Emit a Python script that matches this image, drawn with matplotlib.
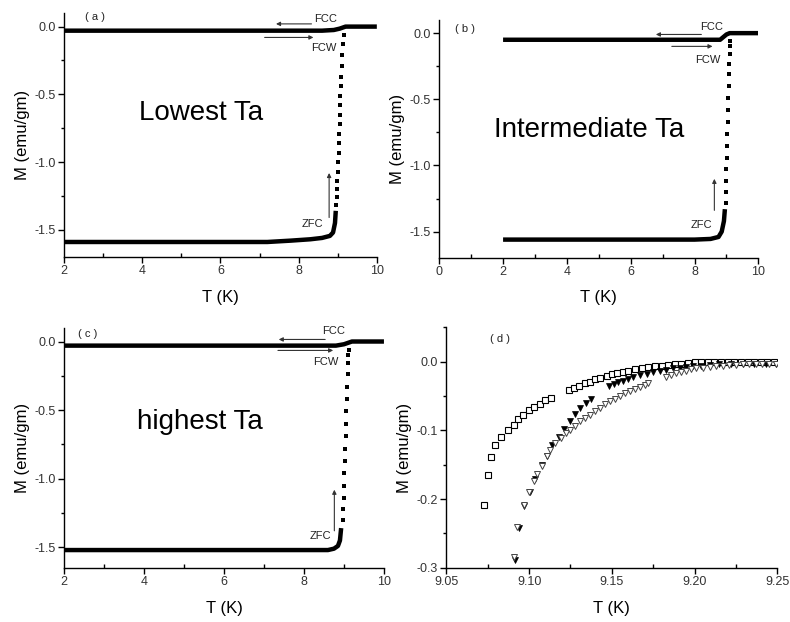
import numpy as np
import matplotlib.pyplot as plt
from matplotlib.ticker import MultipleLocator

plt.rcParams['font.family'] = ['Liberation Sans', 'DejaVu Sans']

# ---- panel (a): lowest Ta ----
a_zfc_T = [2.0, 7.2, 7.8, 8.3, 8.6, 8.8, 8.88, 8.93, 8.95]
a_zfc_M = [-1.59, -1.59, -1.58, -1.57, -1.56, -1.545, -1.52, -1.45, -1.36]
a_rise_T = [8.96, 8.97, 8.98, 8.99, 9.00, 9.01, 9.02, 9.03, 9.04, 9.05, 9.06,
            9.065, 9.07, 9.08, 9.09, 9.10, 9.11, 9.13, 9.15]
a_rise_M = [-1.32, -1.26, -1.2, -1.14, -1.07, -1.0, -0.93, -0.86, -0.79, -0.72,
            -0.65, -0.58, -0.51, -0.44, -0.37, -0.29, -0.21, -0.13, -0.06]
a_fc_T = [2.0, 8.6, 8.9, 9.05, 9.15, 9.2, 10.0]
a_fc_M = [-0.03, -0.03, -0.025, -0.015, -0.005, 0.0, 0.0]

# ---- panel (b): intermediate Ta ----
b_zfc_T = [2.0, 8.0, 8.5, 8.75, 8.85, 8.92, 8.95]
b_zfc_M = [-1.56, -1.56, -1.555, -1.54, -1.5, -1.42, -1.33]
b_rise_T = [8.97, 8.98, 8.99, 9.0, 9.01, 9.02, 9.03, 9.04, 9.05, 9.06, 9.07,
            9.08, 9.09, 9.1, 9.11, 9.12]
b_rise_M = [-1.28, -1.2, -1.12, -1.03, -0.94, -0.85, -0.76, -0.67, -0.58, -0.49,
            -0.4, -0.31, -0.23, -0.16, -0.1, -0.06]
b_fc_T = [2.0, 8.8, 8.9, 9.0, 9.1, 10.0]
b_fc_M = [-0.05, -0.05, -0.03, -0.01, 0.0, 0.0]

# ---- panel (c): highest Ta ----
c_zfc_T = [2.0, 8.6, 8.75, 8.85, 8.9, 8.93]
c_zfc_M = [-1.52, -1.52, -1.51, -1.49, -1.45, -1.36]
c_rise_T = [8.97, 8.98, 8.99, 9.0, 9.01, 9.02, 9.03, 9.04, 9.05, 9.06, 9.07,
            9.08, 9.09, 9.1, 9.11, 9.12]
c_rise_M = [-1.3, -1.22, -1.14, -1.05, -0.96, -0.87, -0.78, -0.69, -0.6, -0.51,
            -0.42, -0.33, -0.24, -0.16, -0.1, -0.06]
c_fc_T = [2.0, 8.8, 9.0, 9.1, 9.2, 10.0]
c_fc_M = [-0.03, -0.03, -0.02, -0.01, 0.0, 0.0]

# ---- panel (d): zoom near Tc ----
sq_T = [9.0725, 9.075, 9.077, 9.0796, 9.083, 9.087, 9.0907, 9.093, 9.0963, 9.0997,
        9.1032, 9.1068, 9.1098, 9.1133,
        9.1239, 9.127, 9.1304, 9.1336, 9.137, 9.140, 9.143, 9.147, 9.150, 9.153,
        9.157, 9.160, 9.164, 9.168, 9.172, 9.176, 9.180, 9.184, 9.188, 9.192,
        9.196, 9.200, 9.204, 9.208, 9.212, 9.216, 9.220, 9.224, 9.228, 9.232,
        9.236, 9.240, 9.244, 9.248]
sq_M = [-0.208, -0.165, -0.139, -0.122, -0.110, -0.100, -0.092, -0.084, -0.078, -0.071,
        -0.066, -0.061, -0.056, -0.053,
        -0.042, -0.038, -0.035, -0.031, -0.029, -0.026, -0.024, -0.021, -0.018, -0.017,
        -0.015, -0.013, -0.011, -0.010, -0.008, -0.007, -0.006, -0.005, -0.004, -0.003,
        -0.002, -0.001, -0.001, -0.001, 0.0, 0.0, 0.0, 0.0, 0.0, 0.0,
        0.0, 0.0, 0.0, 0.0]

tri_f_T = [9.0917, 9.0937, 9.097, 9.1007, 9.1038, 9.108, 9.111, 9.1139, 9.118, 9.121,
           9.1245, 9.128, 9.131, 9.1345, 9.1376,
           9.148, 9.151, 9.154, 9.157, 9.160, 9.163, 9.167, 9.171, 9.175, 9.179,
           9.183, 9.187, 9.191, 9.195, 9.199, 9.204, 9.209, 9.215, 9.222, 9.229,
           9.236, 9.243, 9.249]
tri_f_M = [-0.288, -0.242, -0.210, -0.189, -0.171, -0.151, -0.137, -0.122, -0.110, -0.098,
           -0.086, -0.076, -0.068, -0.060, -0.054,
           -0.036, -0.033, -0.030, -0.028, -0.025, -0.022, -0.020, -0.018, -0.015, -0.013,
           -0.012, -0.010, -0.009, -0.008, -0.007, -0.006, -0.005, -0.004, -0.004, -0.003,
           -0.003, -0.003, -0.003]

tri_o_T = [9.0907, 9.0927, 9.0967, 9.0997, 9.1028, 9.1048, 9.1078, 9.1108, 9.1128, 9.1159,
           9.119, 9.122, 9.125, 9.128, 9.131, 9.134, 9.137, 9.140, 9.143, 9.146,
           9.149, 9.152, 9.155, 9.158, 9.161, 9.164, 9.167, 9.170, 9.172,
           9.183, 9.186, 9.189, 9.192, 9.195, 9.198, 9.201, 9.205, 9.209, 9.213,
           9.217, 9.221, 9.225, 9.229, 9.233, 9.237, 9.241, 9.245, 9.249]
tri_o_M = [-0.284, -0.240, -0.208, -0.189, -0.174, -0.164, -0.152, -0.138, -0.128, -0.118,
           -0.111, -0.104, -0.099, -0.093, -0.087, -0.082, -0.077, -0.072, -0.067, -0.062,
           -0.058, -0.054, -0.050, -0.046, -0.043, -0.040, -0.037, -0.034, -0.031,
           -0.022, -0.019, -0.017, -0.015, -0.013, -0.011, -0.010, -0.009, -0.008, -0.007,
           -0.006, -0.005, -0.005, -0.004, -0.004, -0.003, -0.003, -0.003, -0.003]

tick_col = '#333333'


def style_axes(ax, xpad):
    for s in ['top', 'right']:
        ax.spines[s].set_visible(False)
    for s in ['left', 'bottom']:
        ax.spines[s].set_linewidth(1.0)
    ax.tick_params(which='major', direction='out', length=4, width=1.0,
                   labelsize=9, labelcolor=tick_col, pad=2)
    ax.tick_params(axis='y', which='minor', direction='out', length=2.5, width=1.0)
    ax.tick_params(axis='x', which='minor', direction='in', length=3, width=1.0)
    ax.set_xlabel('T (K)', fontsize=12, labelpad=xpad)
    ax.set_ylabel('M (emu/gm)', fontsize=12, labelpad=3)


def mt_panel(ax, zT, zM, rT, rM, fT, fM, xlim, ylim, tag, tag_xy, name, name_xy,
             fcc, fcw, zfc, xpad):
    ax.plot(fT, fM, color='black', lw=3.2, solid_capstyle='butt')
    ax.plot(zT, zM, color='black', lw=3.2, solid_capstyle='butt')
    ax.plot(rT, rM, 's', color='black', ms=2.6, mew=0)
    ax.set_xlim(*xlim)
    ax.set_ylim(*ylim)
    ax.xaxis.set_major_locator(MultipleLocator(2))
    ax.xaxis.set_minor_locator(MultipleLocator(1))
    ax.yaxis.set_major_locator(MultipleLocator(0.5))
    ax.yaxis.set_minor_locator(MultipleLocator(0.25))
    ax.yaxis.set_major_formatter(plt.FormatStrFormatter('%.1f'))
    ax.text(tag_xy[0], tag_xy[1], tag, fontsize=8, ha='center', va='center',
            color='#222222')
    ax.text(name_xy[0], name_xy[1], name, fontsize=20, ha='center', va='center')
    arr = dict(arrowstyle='-|>', color='#333333', lw=0.8, mutation_scale=6)
    ax.annotate('', xy=(fcc[1], fcc[2]), xytext=(fcc[0], fcc[2]), arrowprops=arr)
    ax.text(fcc[3], fcc[4], 'FCC', fontsize=8, ha='center', va='center', color='#222222')
    ax.annotate('', xy=(fcw[1], fcw[2]), xytext=(fcw[0], fcw[2]), arrowprops=arr)
    ax.text(fcw[3], fcw[4], 'FCW', fontsize=8, ha='center', va='center', color='#222222')
    ax.annotate('', xy=(zfc[0], zfc[2]), xytext=(zfc[0], zfc[1]), arrowprops=arr)
    ax.text(zfc[3], zfc[4], 'ZFC', fontsize=8, ha='center', va='center', color='#222222')
    style_axes(ax, xpad)


fig = plt.figure(figsize=(7.9, 6.22), dpi=100)
axa = fig.add_axes([0.081, 0.587, 0.396, 0.392])
axb = fig.add_axes([0.556, 0.585, 0.404, 0.383])
axc = fig.add_axes([0.081, 0.087, 0.405, 0.386])
axd = fig.add_axes([0.565, 0.087, 0.419, 0.387])

mt_panel(axa, a_zfc_T, a_zfc_M, a_rise_T, a_rise_M, a_fc_T, a_fc_M,
         (2, 10), (-1.7, 0.1), '( a )', (2.8, 0.07), 'Lowest Ta', (5.5, -0.64),
         fcc=(8.4, 7.35, 0.02, 8.7, 0.055), fcw=(7.06, 8.45, -0.08, 8.65, -0.16),
         zfc=(8.78, -1.43, -1.06, 8.35, -1.46), xpad=9)
mt_panel(axb, b_zfc_T, b_zfc_M, b_rise_T, b_rise_M, b_fc_T, b_fc_M,
         (0, 10), (-1.7, 0.1), '( b )', (0.8, 0.03), 'Intermediate Ta', (4.7, -0.73),
         fcc=(8.3, 6.7, -0.01, 8.55, 0.05), fcw=(7.2, 8.65, -0.1, 8.4, -0.2),
         zfc=(8.62, -1.36, -1.08, 8.2, -1.45), xpad=8)
mt_panel(axc, c_zfc_T, c_zfc_M, c_rise_T, c_rise_M, c_fc_T, c_fc_M,
         (2, 10), (-1.65, 0.1), '( c )', (2.6, 0.055), 'highest Ta', (5.4, -0.59),
         fcc=(8.6, 7.3, 0.015, 8.75, 0.075), fcw=(7.28, 8.8, -0.065, 8.55, -0.15),
         zfc=(8.76, -1.4, -1.06, 8.4, -1.42), xpad=9)

# panel (d)
axd.plot(sq_T, sq_M, 's', mfc='white', mec='black', ms=3.8, mew=0.8)
axd.plot(tri_f_T, tri_f_M, 'v', color='black', ms=4.0, mew=0.5)
axd.plot(tri_o_T, tri_o_M, 'v', mfc='white', mec='#444444', ms=4.0, mew=0.7)
axd.set_xlim(9.05, 9.25)
axd.set_ylim(-0.3, 0.05)
axd.xaxis.set_major_locator(MultipleLocator(0.05))
axd.xaxis.set_minor_locator(MultipleLocator(0.025))
axd.yaxis.set_major_locator(MultipleLocator(0.1))
axd.yaxis.set_minor_locator(MultipleLocator(0.05))
axd.xaxis.set_major_formatter(plt.FormatStrFormatter('%.2f'))
axd.yaxis.set_major_formatter(plt.FormatStrFormatter('%.1f'))
axd.text(9.0825, 0.033, '( d )', fontsize=8, ha='center', va='center', color='#222222')
style_axes(axd, 9)

fig.savefig('out.png', dpi=100)
